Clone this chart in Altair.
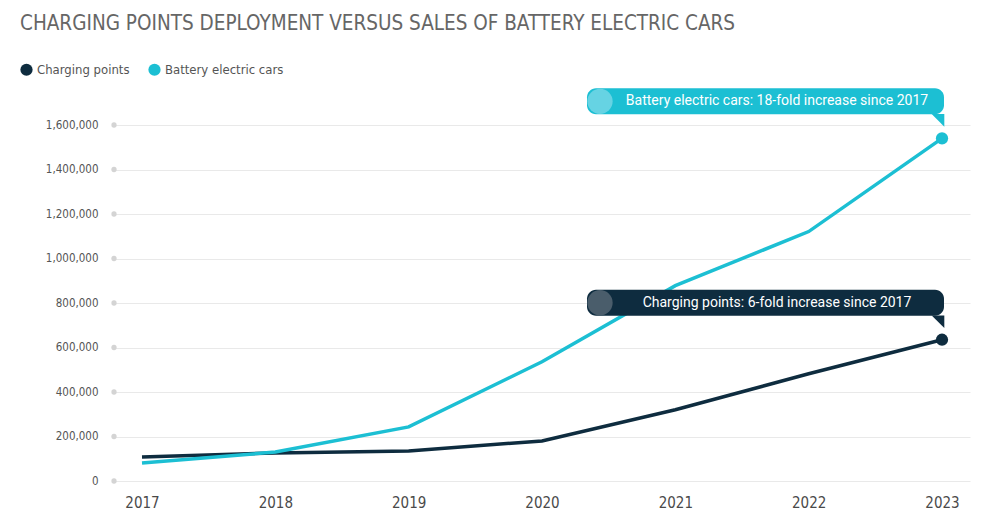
import altair as alt
import pandas as pd

years = [2017, 2018, 2019, 2020, 2021, 2022, 2023]
charging_points = [108000, 126000, 135000, 180000, 320000, 482000, 635000]
battery_cars = [81000, 130000, 243000, 536000, 878000, 1121000, 1540000]
series_names = ["Charging points", "Battery electric cars"]
series_colors = ["#0e2c3f", "#1cbfd3"]
y_ticks = [0, 200000, 400000, 600000, 800000, 1000000, 1200000, 1400000, 1600000]

note_series = ["Battery electric cars", "Charging points"]
note_texts = ["Battery electric cars: 18-fold increase since 2017",
              "Charging points: 6-fold increase since 2017"]
note_values = [battery_cars[-1], charging_points[-1]]
note_colors = ["#1cbfd3", "#0e2c3f"]
note_light = ["#66d3e3", "#4a5d6b"]

TITLE = "CHARGING POINTS DEPLOYMENT VERSUS SALES OF BATTERY ELECTRIC CARS"
COND = "Liberation Sans Narrow, DejaVu Sans Condensed, sans-serif"

rows = []
for name, vals in zip(series_names, [charging_points, battery_cars]):
    for yr, v in zip(years, vals):
        rows.append({"year": yr, "value": v, "series": name})
df = pd.DataFrame(rows)
df_end = df[df["year"] == years[-1]]

notes = pd.DataFrame({
    "year": [years[-1]] * 2,
    "value": note_values,
    "text": note_texts,
    "color": note_colors,
    "light": note_light,
})
ticks_df = pd.DataFrame({"value": y_ticks, "year": [2016.79] * len(y_ticks)})

xs = alt.Scale(domain=[2016.79, 2023.21], nice=False, zero=False)
ys = alt.Scale(domain=[0, 1600000], nice=False)
color_scale = alt.Scale(domain=series_names, range=series_colors)

x_axis = alt.Axis(values=years, format="d", title=None, grid=False, domain=False,
                  ticks=False, labelFont=COND, labelFontSize=15, labelColor="#4a4a4a",
                  labelPadding=14)
y_axis = alt.Axis(values=y_ticks, format=",d", title=None, grid=True, gridColor="#e9e9e9",
                  domain=False, ticks=False, labelFont=COND, labelFontSize=11.5,
                  labelColor="#555555", labelPadding=16)

X = alt.X("year:Q", scale=xs, axis=x_axis)
Y = alt.Y("value:Q", scale=ys, axis=y_axis)

legend = alt.Legend(title=None, orient="none", legendX=-94, legendY=-62, direction="horizontal",
                    symbolType="circle", symbolSize=150, labelFont=COND, labelFontSize=13,
                    labelColor="#555555", columnPadding=18, symbolStrokeWidth=0)

dots = alt.Chart(ticks_df).mark_circle(size=28, color="#d4d4d4", opacity=1).encode(x=X, y=Y)

points = alt.Chart(df_end).mark_circle(size=150, opacity=1).encode(
    x=X, y=Y, color=alt.Color("series:N", scale=color_scale, legend=legend))

lines = alt.Chart(df).mark_line(strokeWidth=3.5).encode(
    x=X, y=Y, color=alt.Color("series:N", scale=color_scale, legend=legend))

box = alt.Chart(notes).mark_rect(cornerRadius=9, xOffset=-355, x2Offset=2,
                                 yOffset=-50, y2Offset=-24).encode(
    x=X, x2="year:Q", y=Y, y2="value:Q", color=alt.Color("color:N", scale=None))

tail = alt.Chart(notes).mark_point(shape="M-1,-1L1,-1L1,1Z", filled=True, size=160,
                                   opacity=1, xOffset=-4, yOffset=-18, strokeWidth=0).encode(
    x=X, y=Y, color=alt.Color("color:N", scale=None))

bubble = alt.Chart(notes).mark_circle(size=640, opacity=1, xOffset=-342, yOffset=-37).encode(
    x=X, y=Y, color=alt.Color("light:N", scale=None))

label = alt.Chart(notes).mark_text(font="Roboto", fontSize=14, color="white", align="center",
                                   baseline="middle", xOffset=-165, yOffset=-37).encode(
    x=X, y=Y, text="text:N")

chart = alt.layer(dots, lines, points, box, tail, bubble, label).properties(
    width=856, height=356,
    background="white",
    autosize=alt.AutoSizeParams(type="none"),
    padding={"left": 114, "top": 125, "right": 30, "bottom": 44},
    title=alt.TitleParams(TITLE, anchor="start", frame="group", dx=-94, offset=29,
                          font=COND, fontSize=20.5, fontWeight="normal", color="#666666"),
).configure_view(stroke=None)

chart.save("out.html", embed_options={"renderer": "svg", "actions": False})
